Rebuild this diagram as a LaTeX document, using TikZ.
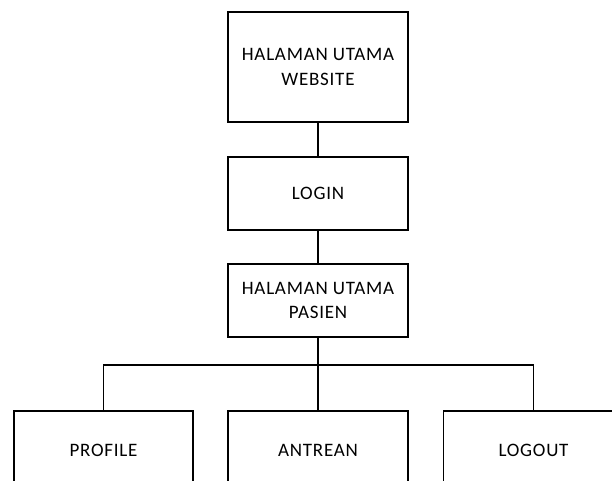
\documentclass[tikz,border=0pt]{standalone}
\usepackage{fontspec}
\setmainfont{Carlito}[LetterSpace=4]
\begin{document}
\begin{tikzpicture}[x=1pt,y=-1pt,
  box/.style={draw=black,line width=1.4pt,fill=white,minimum width=180pt,
    align=center,inner sep=0pt,font=\fontsize{19}{24.5}\selectfont},
  link/.style={draw=black,line width=1.4pt}]
  \clip (0,0) rectangle (612,480);
  \useasboundingbox (0,0) rectangle (612,480);

  % hierarchy of pages
  \node[box,minimum height=110pt] (web) at (318,67) {HALAMAN UTAMA\\WEBSITE};
  \node[box,minimum height=73pt] (login) at (318,193.5) {LOGIN};
  \node[box,minimum height=73pt] (pasien) at (318,300.5) {HALAMAN UTAMA\\PASIEN};

  \node[box,minimum height=78pt,minimum width=179pt] (profile) at (103.5,450) {PROFILE};
  \node[box,minimum height=78pt] (antrean) at (318,450) {ANTREAN};
  \node[box,minimum height=78pt] (logout) at (533.5,450) {LOGOUT};

  \coordinate (bus) at (318,365);

  % connectors
  \draw[link] (web.south) -- (login.north);
  \draw[link] (login.south) -- (pasien.north);
  \draw[link] (pasien.south) -- (antrean.north);
  \draw[link] (profile.north) |- (bus) -| (logout.north);
\end{tikzpicture}
\end{document}
